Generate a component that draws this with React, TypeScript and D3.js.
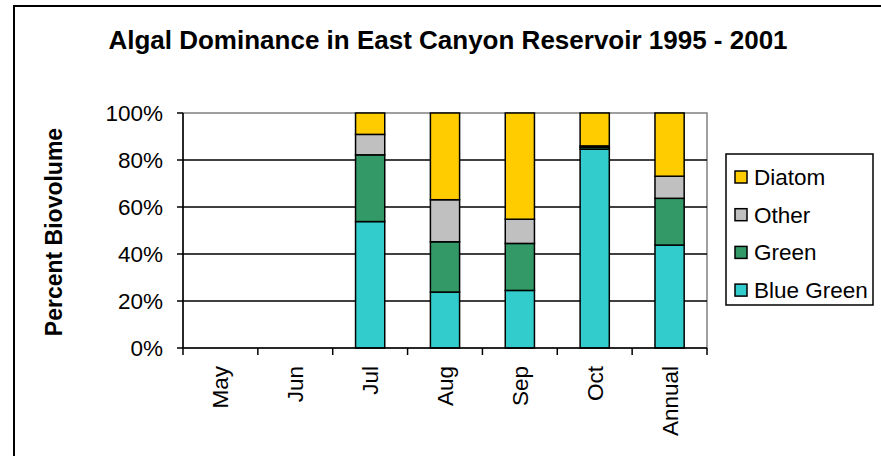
import React from "react";
import * as d3 from "d3";

// Months along the x axis (May and Jun have no samples)
const categories = ["May", "Jun", "Jul", "Aug", "Sep", "Oct", "Annual"];

// Share of total biovolume (%) per algal group, stacked bottom to top
const blueGreen = [0, 0, 53.8, 23.8, 24.5, 84.6, 43.8];
const green = [0, 0, 28.4, 21.4, 20.0, 0.8, 19.9];
const other = [0, 0, 8.7, 17.9, 10.3, 0.6, 9.4];
const diatom = [0, 0, 9.1, 36.9, 45.2, 14.0, 26.9];

const seriesNames = ["Blue Green", "Green", "Other", "Diatom"];
const seriesColors = ["#33CCCC", "#339966", "#C0C0C0", "#FFCC00"];
const yTicks = [0, 20, 40, 60, 80, 100];

const W = 881;
const H = 456;
const plot = { left: 183, right: 707, top: 113, bottom: 348 };
const FONT = "Liberation Sans, Arial, sans-serif";
const LABEL_SIZE = 22.5;

export default function App() {
  const rows = categories.map((c, i) => ({
    cat: c,
    "Blue Green": blueGreen[i],
    Green: green[i],
    Other: other[i],
    Diatom: diatom[i],
  }));
  const stack = d3.stack<any>().keys(seriesNames)(rows);

  const x = d3.scaleBand<string>().domain(categories).range([plot.left, plot.right]).padding(0);
  const y = d3.scaleLinear().domain([0, 100]).range([plot.bottom, plot.top]);
  const barW = x.bandwidth() * 0.39;

  const tickEdges = d3.range(categories.length + 1).map((i) => plot.left + i * x.step());

  // legend lists the groups top of stack first
  const legendOrder = [3, 2, 1, 0];

  return (
    <svg
      width={W}
      height={H}
      style={{ position: "absolute", left: 0, top: 0, background: "#fff" }}
      fontFamily={FONT}
    >
      {/* chart frame */}
      <rect x={14} y={6} width={W} height={H} fill="none" stroke="#000" strokeWidth={2} />

      <text x={448} y={49} textAnchor="middle" fontSize={26} fontWeight="bold" fill="#000">
        Algal Dominance in East Canyon Reservoir 1995 - 2001
      </text>

      {/* plot area outline */}
      <rect
        x={plot.left}
        y={plot.top}
        width={plot.right - plot.left}
        height={plot.bottom - plot.top}
        fill="#fff"
        stroke="#808080"
        strokeWidth={1.5}
      />

      {/* gridlines */}
      {yTicks.slice(1, -1).map((t) => (
        <line key={t} x1={plot.left} x2={plot.right} y1={y(t)} y2={y(t)} stroke="#000" strokeWidth={1.5} />
      ))}

      {/* stacked bars */}
      {stack.map((s, si) =>
        s.map((d, i) => {
          const h = y(d[0]) - y(d[1]);
          if (h <= 0) return null;
          return (
            <rect
              key={`${si}-${i}`}
              x={(x(categories[i]) as number) + (x.bandwidth() - barW) / 2}
              y={y(d[1])}
              width={barW}
              height={h}
              fill={seriesColors[si]}
              stroke="#000"
              strokeWidth={1.5}
            />
          );
        })
      )}

      {/* y axis */}
      <line x1={plot.left} x2={plot.left} y1={plot.top} y2={plot.bottom} stroke="#000" strokeWidth={1.5} />
      {yTicks.map((t) => (
        <g key={t}>
          <line x1={plot.left - 6} x2={plot.left} y1={y(t)} y2={y(t)} stroke="#000" strokeWidth={1.5} />
          <text x={163} y={y(t) + 8} textAnchor="end" fontSize={LABEL_SIZE} fill="#000">
            {t}%
          </text>
        </g>
      ))}

      {/* x axis */}
      <line x1={plot.left} x2={plot.right} y1={plot.bottom} y2={plot.bottom} stroke="#000" strokeWidth={1.5} />
      {tickEdges.map((tx, i) => (
        <line key={i} x1={tx} x2={tx} y1={plot.bottom} y2={plot.bottom + 7} stroke="#000" strokeWidth={1.5} />
      ))}
      {categories.map((c) => {
        const cx = (x(c) as number) + x.bandwidth() / 2;
        return (
          <text
            key={c}
            transform={`translate(${cx + 8},366) rotate(-90)`}
            textAnchor="end"
            fontSize={LABEL_SIZE}
            fill="#000"
          >
            {c}
          </text>
        );
      })}

      <text
        transform={`translate(62,232) rotate(-90)`}
        textAnchor="middle"
        fontSize={23}
        fontWeight="bold"
        fill="#000"
      >
        Percent Biovolume
      </text>

      {/* legend */}
      <rect x={726} y={154} width={147} height={151} fill="#fff" stroke="#000" strokeWidth={1.5} />
      {legendOrder.map((si, k) => {
        const cy = 177 + k * 37.7;
        return (
          <g key={si}>
            <rect x={735} y={cy - 6} width={12} height={12} fill={seriesColors[si]} stroke="#000" strokeWidth={1.5} />
            <text x={754} y={cy + 8} fontSize={LABEL_SIZE} fill="#000">
              {seriesNames[si]}
            </text>
          </g>
        );
      })}
    </svg>
  );
}
